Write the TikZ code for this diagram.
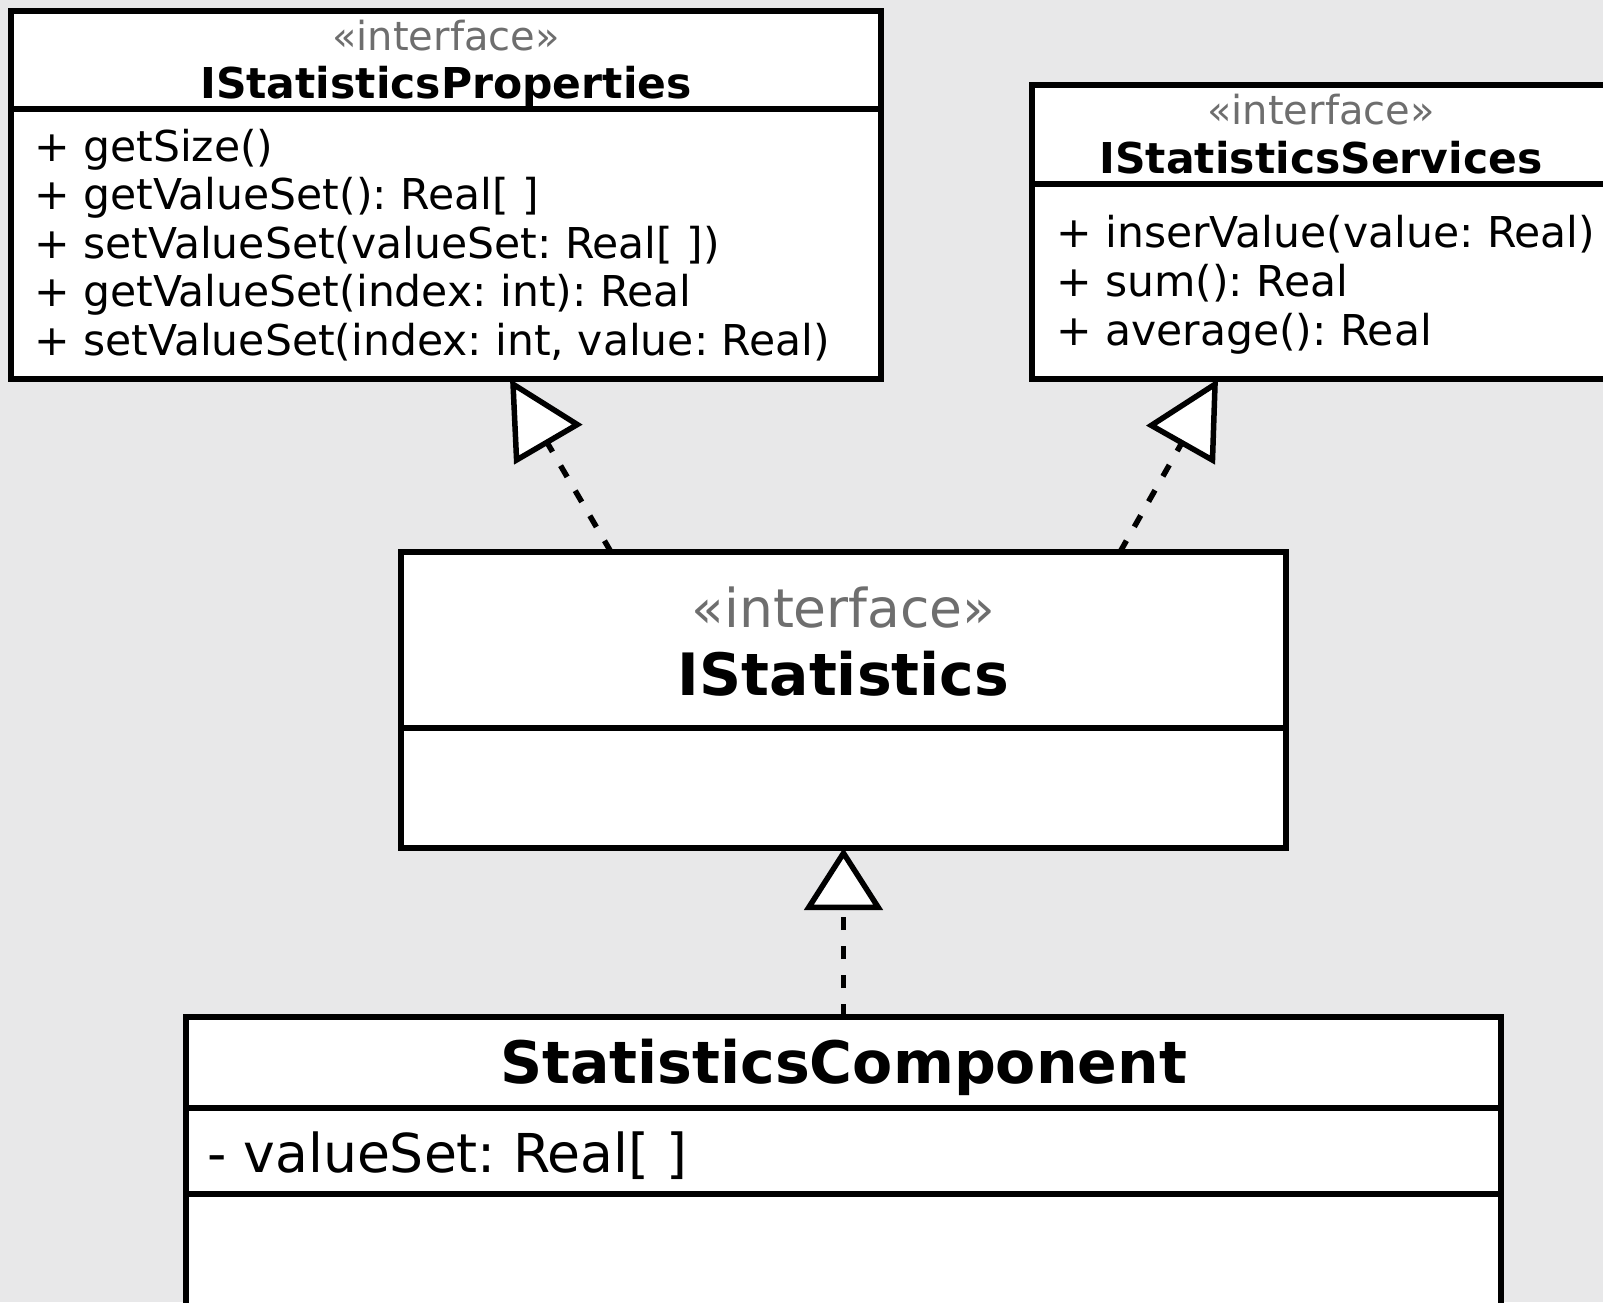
\documentclass[tikz,border=0pt]{standalone}
\usepackage{fontspec}
\setmainfont{DejaVu Sans}
\usepackage{tikz}
\usetikzlibrary{arrows.meta,positioning}
\usepackage{xcolor}
\definecolor{backdrop}{HTML}{E8E8E9}
\definecolor{stereogray}{HTML}{6E6E6E}
\newcommand{\stereotype}{«interface»}
\newcommand{\fsize}[1]{\fontsize{#1}{#1}\selectfont\frenchspacing}

\begin{document}
\begin{tikzpicture}[x=1pt, y=-1pt,
    compart/.style={draw, fill=white, line width=5.5pt, inner sep=0pt, outer sep=0pt, anchor=north west},
    stereo/.style={text=stereogray, inner sep=0pt, anchor=base},
    title/.style={inner sep=0pt, anchor=base},
    member/.style={inner sep=0pt, anchor=base west, font=\fsize{42.5}},
    dashline/.style={line width=5.5pt, dash pattern=on 13pt off 16pt},
    realize/.style={dashline, -{Triangle[fill=white, length=#1, width=78pt]}},
    realize/.default=76pt]
    \useasboundingbox (0,0) rectangle (1603,1302);
    \clip (0,0) rectangle (1603,1302);
    \fill[backdrop] (0,0) rectangle (1603,1302);

    \node[compart, minimum width=870pt, minimum height=98pt]                            (propshead) at (11,11) {};
    \node[compart, minimum width=870pt, minimum height=270pt, below=0pt of propshead]   (propsops)  {};
    \node[stereo, font=\fsize{40}]             (propsstereo) at (446,50)  {\stereotype};
    \node[title,  font=\fsize{42.5}\bfseries]  (propsname)   at (446,98)  {IStatisticsProperties};
    \node[member] (propsop1) at (34,161)   {+ getSize()};
    \node[member] (propsop2) at (34,209.6) {+ getValueSet(): Real[ ]};
    \node[member] (propsop3) at (34,258.2) {+ setValueSet(valueSet: Real[ ])};
    \node[member] (propsop4) at (34,306.8) {+ getValueSet(index: int): Real};
    \node[member] (propsop5) at (34,355.4) {+ setValueSet(index: int, value: Real)};

    \node[compart, minimum width=578pt, minimum height=99pt]                            (servhead) at (1032,85) {};
    \node[compart, minimum width=578pt, minimum height=195pt, below=0pt of servhead]    (servops)  {};
    \node[stereo, font=\fsize{40}]             (servstereo) at (1321,124) {\stereotype};
    \node[title,  font=\fsize{42.5}\bfseries]  (servname)   at (1321,173) {IStatisticsServices};
    \node[member] (servop1) at (1056,247) {+ inserValue(value: Real)};
    \node[member] (servop2) at (1056,296) {+ sum(): Real};
    \node[member] (servop3) at (1056,345) {+ average(): Real};

    \node[compart, minimum width=885pt, minimum height=176pt]                           (stathead) at (401,552) {};
    \node[compart, minimum width=885pt, minimum height=120pt, below=0pt of stathead]    (statops)  {};
    \node[stereo, font=\fsize{53.5}]           (statstereo) at (843.5,627) {\stereotype};
    \node[title,  font=\fsize{58.4}\bfseries]  (statname)   at (843.5,695) {IStatistics};

    \node[compart, minimum width=1315pt, minimum height=91pt]                           (comphead) at (186,1017) {};
    \node[compart, minimum width=1315pt, minimum height=86pt, below=0pt of comphead]    (compattr) {};
    \node[compart, minimum width=1315pt, minimum height=140pt, below=0pt of compattr]   (compops)  {};
    \node[title,  font=\fsize{58.5}\bfseries]  (compname)   at (843.5,1083) {StatisticsComponent};
    \node[member, font=\fsize{53.6}] (compattr1) at (207,1172) {- valueSet: Real[ ]};

    \draw[realize]     ([xshift=210pt]stathead.north west) -- ([xshift=499pt]propsops.south west);
    \draw[realize]     ([xshift=719pt]stathead.north west) -- ([xshift=186pt]servops.south west);
    \draw[realize=62pt] (comphead.north) -- (statops.south);
\end{tikzpicture}
\end{document}
